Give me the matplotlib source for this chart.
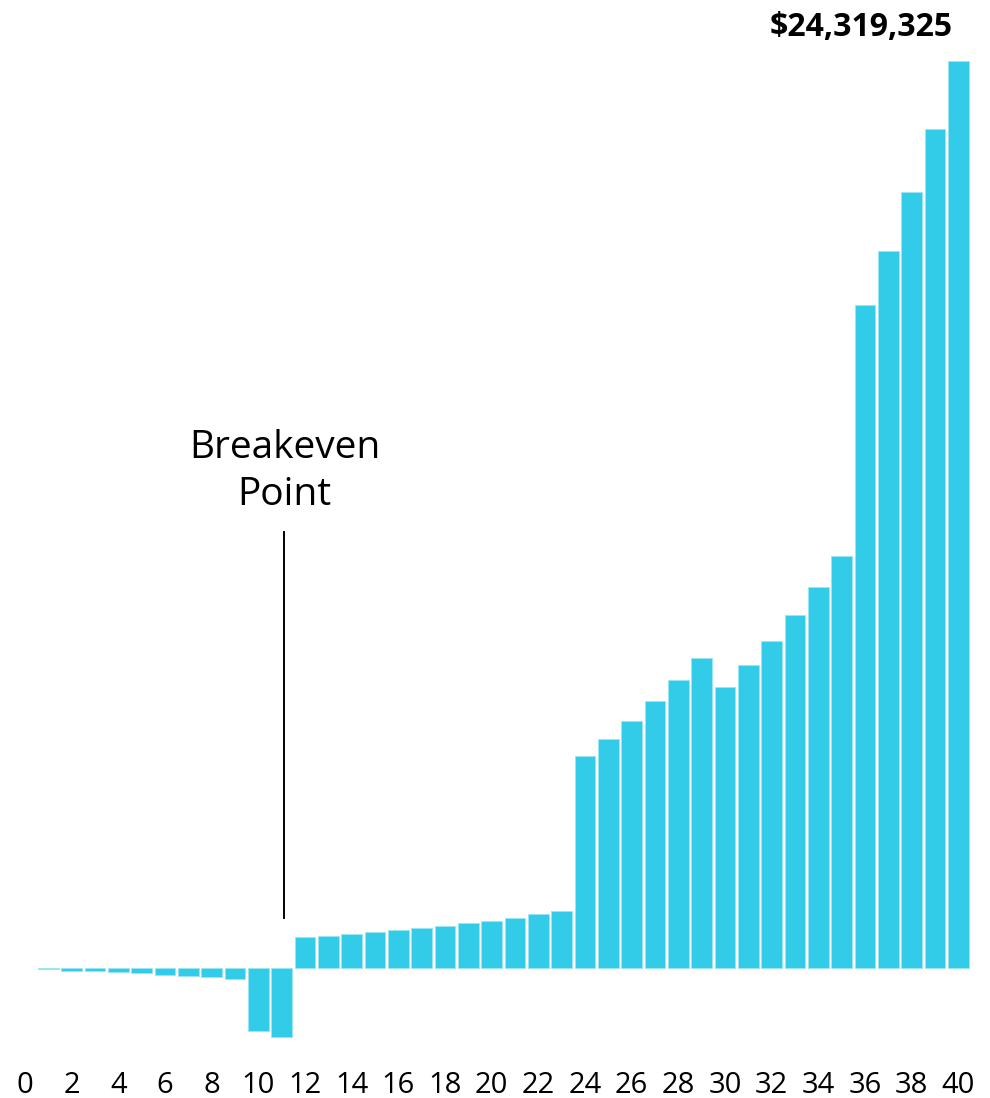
import matplotlib.pyplot as plt
import numpy as np

plt.rcParams['font.family'] = ['Open Sans', 'DejaVu Sans']

# cumulative net value per year
years = list(range(1, 41))
values = [
    -15000, -65000, -80000, -100000, -135000, -170000, -205000, -235000,
    -287000, -1675000, -1835000, 832000, 875000, 929000, 975000, 1028000,
    1082000, 1143000, 1208000, 1277000, 1350000, 1449000, 1538000,
    5697000, 6153000, 6637000, 7155000, 7718000, 8327000, 7530000,
    8120000, 8775000, 9481000, 10233000, 11064000, 17773000, 19222000,
    20805000, 22496000, 24319325,
]
tick_years = list(range(0, 41, 2))

breakeven_x = 11.12
breakeven_y = (1350000, 11695000)
bar_color = '#32CCE8'

fig = plt.figure(figsize=(9.9, 10.98), dpi=100)
ax = fig.add_axes([0, 38 / 1098, 1, 1060 / 1098])

ax.bar(years, values, width=0.88, color=bar_color, edgecolor='#9BE6F4', linewidth=0.6)

ax.set_xlim(-1.071, 41.36)
ax.set_ylim(-2458000, 25954000)

ax.set_xticks(tick_years)
ax.set_xticklabels([str(t) for t in tick_years], fontsize=21)
ax.tick_params(axis='x', length=0, pad=8)
ax.set_yticks([])
for s in ax.spines.values():
    s.set_visible(False)

# breakeven marker
ax.plot([breakeven_x, breakeven_x], breakeven_y, color='black', lw=1.4)
ax.text(breakeven_x, 12418000, 'Breakeven\nPoint', ha='center', va='baseline',
        fontsize=28, linespacing=1.3)

# final value label
ax.text(35.83, 24990000, f'${values[-1]:,}', ha='center', va='baseline',
        fontsize=23, fontweight='bold')

fig.savefig('out.png', dpi=100)
